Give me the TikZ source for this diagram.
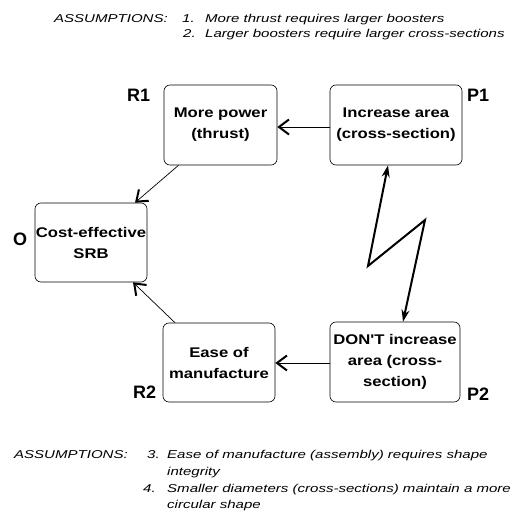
\documentclass[tikz,border=0pt]{standalone}
\usepackage{fontspec}
\setmainfont{Liberation Sans}
\newfontfamily\boxfont[FakeStretch=1.19]{Liberation Sans}
\newfontfamily\notefont[FakeStretch=1.32]{Liberation Sans}
\usetikzlibrary{arrows.meta}
\tikzset{
  stepbox/.style={draw, line width=0.6pt, rounded corners=6pt, align=center,
    inner sep=0pt, font=\boxfont\bfseries\fontsize{14}{21}\selectfont},
  tag/.style={anchor=base west, inner sep=0pt, font=\bfseries\fontsize{18}{18}\selectfont},
  note/.style={anchor=base west, inner sep=0pt, font=\notefont\itshape\fontsize{11.4}{13}\selectfont},
  conn/.style={line width=0.7pt,
    -{Straight Barb[length=10pt, width=15pt, line width=2pt]}},
  bolt/.style={line width=2pt, line join=miter,
    {Stealth[length=12pt, width=8pt]}-{Stealth[length=12pt, width=8pt]}}
}
\begin{document}
\begin{tikzpicture}[x=1pt, y=-1pt]
\useasboundingbox (0,0) rectangle (528,514);

% assumptions above the cloud
\node[note, anchor=base east] (a0) at (168,22) {ASSUMPTIONS:};
\node[note] (a1n) at (182,22) {1.};
\node[note] (a1) at (205,22) {More thrust requires larger boosters};
\node[note] (a2n) at (183,37) {2.};
\node[note] (a2) at (205,37) {Larger boosters require larger cross-sections};

% the five boxes of the conflict cloud
\node[stepbox, minimum width=113pt, minimum height=80pt] (R1) at (220.5,125) {More power\\(thrust)};
\node[stepbox, minimum width=132pt, minimum height=80pt] (P1) at (396,125) {Increase area\\(cross-section)};
\node[stepbox, minimum width=112pt, minimum height=79pt] (O) at (91,242.5) {Cost-effective\\SRB};
\node[stepbox, minimum width=112pt, minimum height=79pt] (R2) at (219,362.5) {Ease of\\manufacture};
\node[stepbox, minimum width=130pt, minimum height=80pt] (P2) at (395,362) {DON'T increase\\area (cross-\\section)};

% box tags
\node[tag] (tR1) at (127,101) {R1};
\node[tag] (tP1) at (467,101) {P1};
\node[tag] (tO) at (13,245) {O};
\node[tag] (tR2) at (133,398) {R2};
\node[tag] (tP2) at (467,400) {P2};

% necessary-condition arrows
\draw[conn] (P1.west |- 0,127) -- (R1.east |- 0,127);
\draw[conn] ([xshift=-42pt]R1.south) -- ([xshift=44pt]O.north);
\draw[conn] ([xshift=-44pt]R2.north) -- ([xshift=42pt]O.south);
\draw[conn] (P2.west |- 0,363) -- (R2.east |- 0,363);

% conflict bolt between P1 and P2
\coordinate (zA) at (368,266);
\coordinate (zB) at (425,220);
\draw[bolt] ([xshift=-8pt]P1.south) -- (zA) -- (zB) -- ([xshift=8pt]P2.north);

% assumptions below the cloud
\node[note, anchor=base east] (b0) at (128,458) {ASSUMPTIONS:};
\node[note] (b3n) at (147,458) {3.};
\node[note] (b3) at (167,458) {Ease of manufacture (assembly) requires shape};
\node[note] (b3b) at (167,475) {integrity};
\node[note] (b4n) at (143,492) {4.};
\node[note] (b4) at (167,492) {Smaller diameters (cross-sections) maintain a more};
\node[note] (b4b) at (167,508) {circular shape};
\end{tikzpicture}
\end{document}
